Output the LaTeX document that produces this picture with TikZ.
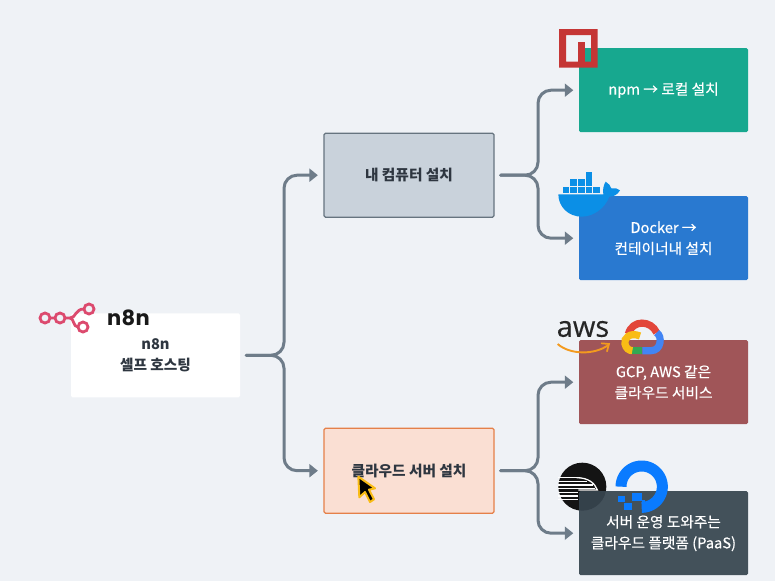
\documentclass[tikz,border=0pt]{standalone}
\usepackage{fontspec}
\setmainfont{Noto Sans CJK KR}
\newfontfamily\medfont[FakeBold=0.4]{Noto Sans CJK KR}
\newfontfamily\awsfont[FakeBold=0.3]{Open Sans}
\newfontfamily\neefont[LetterSpace=2]{Poppins}
\usetikzlibrary{arrows.meta}
\definecolor{bgc}{HTML}{EFF2F6}
\definecolor{conn}{HTML}{6E7C89}
\definecolor{dark}{HTML}{2E3640}
\definecolor{pcfill}{HTML}{C9D2DB}
\definecolor{pcline}{HTML}{66747F}
\definecolor{cloudfill}{HTML}{FADFD3}
\definecolor{cloudline}{HTML}{E58049}
\definecolor{npmfill}{HTML}{17A88F}
\definecolor{dockfill}{HTML}{2979D0}
\definecolor{gcpfill}{HTML}{A05558}
\definecolor{paasfill}{HTML}{37454F}
\definecolor{nred}{HTML}{DC4A6E}
\definecolor{npmred}{HTML}{C53635}
\definecolor{whale}{HTML}{0B8FE6}
\definecolor{amz}{HTML}{F39A1E}
\definecolor{ocean}{HTML}{0A7BFF}
\definecolor{gred}{HTML}{E2463A}
\definecolor{gblue}{HTML}{4285F4}
\definecolor{ggreen}{HTML}{34A853}
\definecolor{gyellow}{HTML}{F9BC15}
\tikzset{
 x=1pt,y=-1pt,
 boxn/.style={minimum width=169pt,minimum height=84pt,rounded corners=1.5pt,align=center,font=\fontsize{14.7}{21}\selectfont\medfont,inner sep=0pt},
 lightbox/.style={boxn,text=dark,font=\fontsize{14.7}{21}\selectfont\bfseries},
 darkbox/.style={boxn,text=white},
 wire/.style={draw=conn,line width=3pt,rounded corners=13pt,line cap=round,shorten >=5.5pt,shorten <=6pt,-{Triangle[length=8.5pt,width=13pt]}},
 zoomed/.style={x=0.33333pt,y=-0.33333pt}
}
\begin{document}
\begin{tikzpicture}
\useasboundingbox[fill=bgc] (0,0) rectangle (775,581);
% railway logo lies beneath the translucent box
\begin{scope}[shift={(545,455)},zoomed]
\fill[black!92] (112,95) circle (24pt);
\foreach \yy/\xe in {68/95,79/125,90/145,101/150,112/100,123/100,134/100}
  \draw[white,line width=1.3pt] (40,\yy) -- (\xe,\yy);
\draw[white,line width=1.3pt] (95,68) .. controls (130,68) and (150,85) .. (157,105) -- (100,105);
\end{scope}

\node[lightbox,fill=white] (root) at (155.5,355.3) {n8n\\셀프 호스팅};
\node[lightbox,fill=pcfill,minimum width=170pt,draw=pcline,line width=1.3pt] (pc) at (409,175.2) {내 컴퓨터 설치};
\node[lightbox,fill=cloudfill,draw=cloudline,minimum width=170pt,minimum height=85pt,line width=1.3pt] (cloud) at (409,470.7) {클라우드 서버 설치};
\node[darkbox,fill=npmfill] (npm) at (663.5,90.2) {npm → 로컬 설치};
\node[darkbox,fill=dockfill] (docker) at (663.5,238.2) {Docker →\\컨테이너내 설치};
\node[darkbox,fill=gcpfill] (gcp) at (663.5,382.2) {GCP, AWS 같은\\클라우드 서비스};
\node[darkbox,fill=paasfill,fill opacity=.93,text opacity=1] (paas) at (663.5,533.2) {서버 운영 도와주는\\클라우드 플랫폼 (PaaS)};

\coordinate (j1) at (284,355.3);
\coordinate (j2) at (538,175.2);
\coordinate (j3) at (538,470.7);
\draw[wire] (root.east) -- (j1) |- (pc.west);
\draw[wire] (root.east) -- (j1) |- (cloud.west);
\draw[wire] (pc.east) -- (j2) |- (npm.west);
\draw[wire] (pc.east) -- (j2) |- (docker.west);
\draw[wire] (cloud.east) -- (j3) |- (gcp.west);
\draw[wire] (cloud.east) -- (j3) |- (paas.west);

% n8n logo
\begin{scope}[draw=nred,line width=2.8pt]
\draw (50,318) -- (55,318) (65,318) -- (70,318) .. controls (76,318) and (75,309) .. (84,309);
\draw (70,318) .. controls (74,318) and (73,327) .. (78,327);
\draw (45,318) circle (5pt) (60,318) circle (5pt) (89,309) circle (5pt) (83,327) circle (5pt);
\end{scope}
\node[font=\fontsize{21}{21}\selectfont\neefont\bfseries,text=black!90,inner sep=0pt] (n8nword) at (128.5,317.5) {n8n};

% npm logo
\fill[npmred,even odd rule] (559,29) rectangle (597.5,67.5) (566,35) rectangle (591,61.5);
\fill[npmred] (578,42) rectangle (585,61.5);

% docker logo
\begin{scope}[shift={(540,165)},zoomed]
\fill[whale] (55,88) -- (190,88) .. controls (187,72) and (192,58) .. (197,50) .. controls (206,55) and (212,63) .. (214,70) .. controls (224,68) and (234,70) .. (240,76) .. controls (232,90) and (220,95) .. (208,95) .. controls (195,130) and (160,155) .. (125,155) .. controls (85,155) and (55,125) .. (55,88) -- cycle;
\foreach \sx/\sy in {68/65,91/65,114/65,137/65,160/65,91/43,114/43,137/43,137/22}
  \fill[whale] (\sx,\sy) rectangle ++(20,20);
\end{scope}

% aws logo
\node[font=\fontsize{29}{29}\selectfont\awsfont,text=black!85,inner sep=0pt] (awsword) at (583,329) {aws};
\begin{scope}[shift={(545,310)},zoomed]
\draw[amz,line width=1.9pt] (38,102) .. controls (75,135) and (150,135) .. (190,105);
\draw[amz,line width=1.7pt,line cap=round] (170,100) -- (192,102) -- (186,124);
\end{scope}

% google cloud logo
\begin{scope}[shift={(545,310)},zoomed,line width=7.2pt]
\draw[gred] (250,72) .. controls (262,28) and (318,30) .. (335,68);
\draw[gblue] (335,68) .. controls (352,78) and (350,122) .. (318,122) -- (292,122);
\draw[ggreen] (292,122) -- (258,122);
\draw[gyellow] (285,78) .. controls (255,65) and (235,85) .. (240,102) .. controls (243,115) and (252,122) .. (262,122);
\end{scope}

% digitalocean logo
\begin{scope}[shift={(545,455)},zoomed]
\draw[ocean,line width=11pt] plot[domain=180:450,samples=50] ({290+62*cos(\x)},{95+62*sin(\x)});
\fill[ocean] (262,113) rectangle (292,137);
\fill[ocean] (238,145) rectangle (262,165);
\fill[ocean] (218,122) rectangle (240,140);
\fill[ocean] (292,135) rectangle (300,172);
\end{scope}

% mouse cursor
\begin{scope}[shift={(320,420)},zoomed]
\draw[gyellow,line width=2pt,line join=round,fill=black] (115,170) -- (118,232) -- (135,216) -- (150,246) -- (162,238) -- (147,209) -- (165,205) -- cycle;
\end{scope}
\end{tikzpicture}
\end{document}
